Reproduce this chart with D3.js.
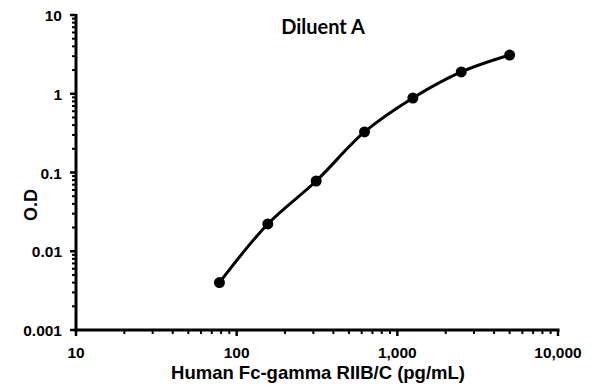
<!DOCTYPE html>
<html>
<head>
<meta charset="utf-8">
<script src="https://cdn.jsdelivr.net/npm/d3@7"></script>
<style>
	body { margin: 0; background: #fff; }
	text { font-family: Arial, "Liberation Sans", sans-serif; font-weight: bold; fill: #000; }
</style>
</head>
<body>
<svg id="chart"></svg>
<script>
// ========== DATA ==========
var concentrations = [78.125, 156.25, 312.5, 625, 1250, 2500, 5000];
var od_values = [0.0040, 0.0222, 0.078, 0.327, 0.883, 1.89, 3.10];
var x_ticks = [10, 100, 1000, 10000];
var x_tick_labels = ['10', '100', '1,000', '10,000'];
var y_ticks = [0.001, 0.01, 0.1, 1, 10];
var y_tick_labels = ['0.001', '0.01', '0.1', '1', '10'];

makeChart();

function makeChart() {
	var plotWidth = 595;
	var plotHeight = 392;

	var x = d3.scaleLog()
		.domain([10, 10000])
		.range([76, 558]);
	var y = d3.scaleLog()
		.domain([0.001, 10])
		.range([330, 15]);

	var svg = d3.select('#chart')
		.attr('width', plotWidth)
		.attr('height', plotHeight);

	// minor ticks: everything between the decades
	var x_minor = x.ticks().filter(function(d) { return x_ticks.indexOf(d) < 0; });
	var y_minor = y.ticks().filter(function(d) { return y_ticks.indexOf(d) < 0; });

	// x axis
	var xAxis = svg.append('g')
		.attr('transform', 'translate(0,330)');
	xAxis.selectAll('.minor')
		.data(x_minor).enter().append('line')
			.attr('x1', function(d) { return x(d); })
			.attr('x2', function(d) { return x(d); })
			.attr('y1', 0)
			.attr('y2', 4)
			.attr('stroke', '#000')
			.attr('stroke-width', 2);
	xAxis.selectAll('.major')
		.data(x_ticks).enter().append('line')
			.attr('x1', function(d) { return x(d); })
			.attr('x2', function(d) { return x(d); })
			.attr('y1', 0)
			.attr('y2', 6)
			.attr('stroke', '#000')
			.attr('stroke-width', 2.5);
	xAxis.append('line')
		.attr('x1', x(10) - 1.5)
		.attr('x2', x(10000) + 1.5)
		.attr('y1', 0)
		.attr('y2', 0)
		.attr('stroke', '#000')
		.attr('stroke-width', 3);
	xAxis.selectAll('.xlabel')
		.data(x_ticks).enter().append('text')
			.attr('x', function(d) { return x(d); })
			.attr('y', 28)
			.attr('text-anchor', 'middle')
			.style('font-size', '15.5px')
			.text(function(d, i) { return x_tick_labels[i]; });

	// y axis
	var yAxis = svg.append('g')
		.attr('transform', 'translate(76,0)');
	yAxis.selectAll('.minor')
		.data(y_minor).enter().append('line')
			.attr('x1', -4)
			.attr('x2', 0)
			.attr('y1', function(d) { return y(d); })
			.attr('y2', function(d) { return y(d); })
			.attr('stroke', '#000')
			.attr('stroke-width', 2);
	yAxis.selectAll('.major')
		.data(y_ticks).enter().append('line')
			.attr('x1', -6)
			.attr('x2', 0)
			.attr('y1', function(d) { return y(d); })
			.attr('y2', function(d) { return y(d); })
			.attr('stroke', '#000')
			.attr('stroke-width', 2.5);
	yAxis.append('line')
		.attr('x1', 0)
		.attr('x2', 0)
		.attr('y1', y(10) - 1)
		.attr('y2', y(0.001) + 1.5)
		.attr('stroke', '#000')
		.attr('stroke-width', 3);
	yAxis.selectAll('.ylabel')
		.data(y_ticks).enter().append('text')
			.attr('x', -14)
			.attr('y', function(d) { return y(d) + 6; })
			.attr('text-anchor', 'end')
			.style('font-size', '15.5px')
			.text(function(d, i) { return y_tick_labels[i]; });

	// axis titles
	svg.append('text')
		.attr('x', 318)
		.attr('y', 379)
		.attr('text-anchor', 'middle')
		.style('font-size', '18.5px')
		.text('Human Fc-gamma RIIB/C (pg/mL)');
	svg.append('text')
		.attr('transform', 'translate(37,205)rotate(-90)')
		.attr('text-anchor', 'middle')
		.style('font-size', '18px')
		.text('O.D');

	// chart title
	svg.append('text')
		.attr('x', 323)
		.attr('y', 34)
		.attr('text-anchor', 'middle')
		.style('font-family', 'Lato, "Open Sans", sans-serif')
		.style('font-size', '20px')
		.text('Diluent A');

	// standard curve
	var points = concentrations.map(function(c, i) { return [c, od_values[i]]; });
	var line = d3.line()
		.x(function(d) { return x(d[0]); })
		.y(function(d) { return y(d[1]); })
		.curve(d3.curveCatmullRom);
	svg.append('path')
		.attr('d', line(points))
		.attr('fill', 'none')
		.attr('stroke', '#000')
		.attr('stroke-width', 3);
	svg.selectAll('.dot')
		.data(points).enter().append('circle')
			.attr('cx', function(d) { return x(d[0]); })
			.attr('cy', function(d) { return y(d[1]); })
			.attr('r', 5.5)
			.attr('fill', '#000');
}
</script>
</body>
</html>
